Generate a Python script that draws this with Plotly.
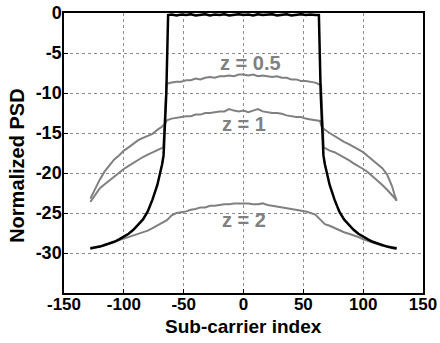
import plotly.graph_objects as go

# ---------------- data ----------------
x_ticks = [-150, -100, -50, 0, 50, 100, 150]
x_ticktext = ["-150", "-100", "-50", "0", "50", "100", "150"]
y_ticks = [0, -5, -10, -15, -20, -25, -30]
y_ticktext = ["0", "-5", "-10", "-15", "-20", "-25", "-30"]

# reference (black) PSD
black_x = [-128, -124, -120, -116, -112, -108, -104, -100, -96, -92, -88, -84, -80, -76, -72, -70, -68, -66.8, -64.5, -63,
           -60, -56, -52, -48, -44, -40, -36, -32, -28, -24, -20, -16, -12, -8, -4, 0,
           4, 8, 12, 16, 20, 24, 28, 32, 36, 40, 44, 48, 52, 56, 60,
           63, 64.5, 66.8, 68, 70, 72, 76, 80, 84, 88, 92, 96, 100, 104, 108, 112, 116, 120, 124, 128]
black_y = [-29.4, -29.3, -29.2, -29.0, -28.8, -28.6, -28.3, -28.0, -27.6, -27.1, -26.5, -25.8, -24.8, -23.3, -21.5, -20.3, -18.9, -17.8, -10.0, -0.25,
           -0.2, -0.3, -0.2, -0.25, -0.15, -0.3, -0.2, -0.15, -0.3, -0.2, -0.25, -0.15, -0.3, -0.2, -0.15, -0.25,
           -0.2, -0.3, -0.15, -0.25, -0.2, -0.15, -0.3, -0.2, -0.15, -0.3, -0.2, -0.15, -0.25, -0.2, -0.25,
           -0.25, -10.0, -17.8, -18.9, -20.3, -21.5, -23.3, -24.8, -25.8, -26.5, -27.1, -27.6, -28.0, -28.3, -28.6, -28.8, -29.0, -29.2, -29.3, -29.4]

# curve with lower out-of-band skirt and highest in-band level (z = 0.5)
z05_x = [-128, -124, -120, -116, -112, -108, -104, -100, -96, -92, -88, -84, -80, -76, -72, -68, -67, -64.3,
         -63, -60, -56, -52, -48, -44, -40, -36, -32, -28, -24, -20, -16, -12, -8, -4, 0,
         4, 8, 12, 16, 20, 24, 28, 32, 36, 40, 44, 48, 52, 56, 60, 63,
         64.8, 67, 68, 72, 76, 80, 84, 88, 92, 96, 100, 104, 108, 112, 116, 120, 124, 128]
z05_y = [-23.6, -22.7, -21.9, -21.4, -20.9, -20.4, -19.9, -19.5, -19.1, -18.7, -18.4, -18.0, -17.7, -17.4, -17.1, -16.9, -16.8, -8.8,
         -8.8, -8.7, -8.6, -8.6, -8.4, -8.4, -8.2, -8.3, -8.1, -8.0, -8.1, -7.9, -7.9, -7.8, -7.9, -7.7, -7.7,
         -7.8, -7.7, -7.9, -7.8, -7.9, -8.0, -7.9, -8.1, -8.1, -8.3, -8.3, -8.5, -8.5, -8.6, -8.7, -8.9,
         -9.0, -16.8, -16.9, -17.2, -17.4, -17.7, -18.0, -18.4, -18.8, -19.1, -19.5, -19.9, -20.4, -20.9, -21.5, -22.1, -22.8, -23.4]

# z = 1 curve
z1_x = [-128, -124, -120, -116, -112, -108, -104, -100, -96, -92, -88, -84, -80, -76, -72, -68, -65,
        -64, -60, -56, -52, -48, -44, -40, -36, -32, -28, -24, -20, -16, -12, -8, -4, 0,
        4, 8, 12, 16, 20, 24, 28, 32, 36, 40, 44, 48, 52, 56, 60, 64,
        65, 68, 72, 76, 80, 84, 88, 92, 96, 100, 104, 108, 112, 116, 120, 124, 126, 128]
z1_y = [-23.2, -21.9, -20.8, -19.8, -19.0, -18.3, -17.8, -17.2, -16.8, -16.3, -15.9, -15.6, -15.3, -15.1, -14.6, -14.2, -13.7,
        -13.4, -13.2, -13.1, -13.0, -12.9, -12.9, -12.7, -12.7, -12.5, -12.5, -12.4, -12.3, -12.3, -12.0, -12.2, -12.3, -12.2,
        -12.4, -12.2, -12.0, -12.3, -12.4, -12.5, -12.5, -12.6, -12.8, -12.9, -13.0, -13.0, -13.2, -13.3, -13.4, -13.5,
        -14.1, -14.6, -15.0, -15.4, -15.7, -16.1, -16.4, -16.7, -17.1, -17.4, -17.9, -18.4, -18.9, -19.4, -20.2, -21.6, -22.6, -23.5]

# z = 2 curve
z2_x = [-128, -124, -120, -116, -112, -108, -104, -100, -96, -92, -88, -84, -80, -76, -72, -68, -64,
        -60, -56, -52, -48, -44, -40, -36, -32, -28, -24, -20, -16, -12, -8, -4, 0,
        4, 8, 12, 16, 20, 24, 28, 32, 36, 40, 44, 48, 52, 56, 60,
        64, 68, 72, 76, 80, 84, 88, 92, 96, 100, 104, 108, 112, 116, 120, 124, 128]
z2_y = [-29.5, -29.3, -29.2, -29.0, -28.8, -28.6, -28.4, -28.2, -28.0, -27.8, -27.6, -27.4, -27.2, -26.9, -26.6, -26.2, -25.9,
        -25.3, -25.0, -24.9, -24.8, -24.6, -24.5, -24.3, -24.3, -24.1, -24.1, -24.0, -23.9, -23.9, -23.8, -23.8, -23.8,
        -23.8, -23.9, -23.9, -23.8, -24.0, -24.1, -24.2, -24.3, -24.4, -24.5, -24.6, -24.7, -24.8, -25.0, -25.2,
        -25.8, -26.4, -26.6, -26.9, -27.1, -27.4, -27.6, -27.8, -28.0, -28.3, -28.5, -28.7, -28.9, -29.1, -29.2, -29.4, -29.5]

label_text = ["z = 0.5", "z = 1", "z = 2"]
label_x = [6, 0, 0]
label_y = [-6.3, -13.9, -25.9]

x_title = "Sub-carrier index"
y_title = "Normalized PSD"

# ---------------- figure ----------------
GRAY = "#808080"
FONT = "Liberation Sans, Arial, sans-serif"

fig = go.Figure()
for xs, ys in [(z05_x, z05_y), (z1_x, z1_y), (z2_x, z2_y)]:
    fig.add_trace(go.Scatter(x=xs, y=ys, mode="lines",
                             line=dict(color=GRAY, width=2), showlegend=False))
fig.add_trace(go.Scatter(x=black_x, y=black_y, mode="lines",
                         line=dict(color="black", width=2.5), showlegend=False))

for t, lx, ly in zip(label_text, label_x, label_y):
    fig.add_annotation(x=lx, y=ly, text=t, showarrow=False,
                       font=dict(family=FONT, size=20, color=GRAY, weight="bold"))

fig.add_annotation(xref="paper", yref="paper", x=0.5, y=-0.121, text=x_title,
                   showarrow=False, xanchor="center", yanchor="middle", borderpad=0,
                   font=dict(family=FONT, size=19, color="black", weight="bold"))
fig.add_annotation(xref="paper", yref="paper", x=-0.131, y=0.454, text=y_title,
                   showarrow=False, xanchor="center", yanchor="middle", textangle=-90,
                   font=dict(family=FONT, size=20, color="black", weight="bold"))

axis_common = dict(
    showline=True, linecolor="black", linewidth=1.5, mirror=True,
    ticks="inside", ticklen=4, tickcolor="black",
    showgrid=True, gridcolor="#8c8c8c", gridwidth=1, griddash="dot",
    zeroline=False, automargin=False,
)

fig.update_xaxes(range=[-150, 150], tickvals=x_ticks, ticktext=x_ticktext,
                 ticklabelstandoff=-5,
                 tickfont=dict(family=FONT, size=17, color="black", weight="bold"),
                 **axis_common)
fig.update_yaxes(range=[-35, 0], tickvals=y_ticks, ticktext=y_ticktext,
                 ticklabelstandoff=-3,
                 tickfont=dict(family=FONT, size=18, color="black", weight="bold"),
                 **axis_common)

fig.update_layout(width=440, height=343,
                  margin=dict(l=64, r=17, t=13, b=50),
                  plot_bgcolor="white", paper_bgcolor="white")

fig.write_html("out.html")
